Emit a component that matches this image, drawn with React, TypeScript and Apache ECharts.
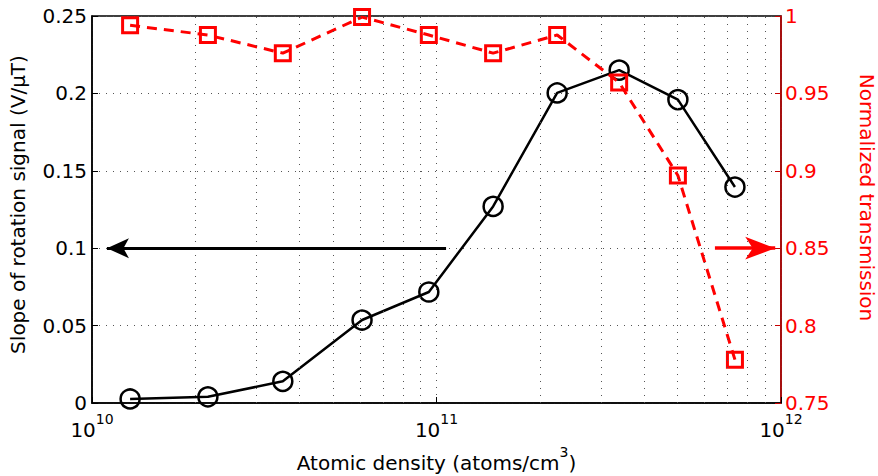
import React, { useEffect, useRef } from "react";
import * as echarts from "echarts";

// Atomic density (atoms/cm^3)
const density = [1.29e10, 2.17e10, 3.58e10, 6.08e10, 9.5e10, 1.46e11, 2.24e11, 3.39e11, 5.02e11, 7.35e11];
// Slope of rotation signal (V/uT) — left axis
const slope = [0.0026, 0.004, 0.014, 0.0536, 0.0717, 0.127, 0.2003, 0.215, 0.196, 0.1395];
// Normalized transmission — right axis
const transmission = [0.994, 0.9877, 0.976, 0.9993, 0.9877, 0.976, 0.9877, 0.957, 0.897, 0.778];

// Axis ranges
const xRange = [1e10, 1e12];
const leftRange = [0, 0.25];
const rightRange = [0.75, 1];
const yStep = 0.05;

// Arrow annotations [fromX, toX, y]
const blackArrow = [1.066e11, 1.105e10, 0.1];
const redArrow = [6.43e11, 9.62e11, 0.85];

// Minor log grid positions (2..9 per decade)
const minorMultipliers = [2, 3, 4, 5, 6, 7, 8, 9];
const decades = [1e10, 1e11];

const FONT = "DejaVu Sans";

export default function App() {
  const ref = useRef<HTMLDivElement>(null);

  useEffect(() => {
    if (!ref.current) return;
    const chart = echarts.init(ref.current, undefined, { renderer: "svg" });

    const minorGrid = decades.flatMap((d) => minorMultipliers.map((m) => m * d));
    const gridLine = { color: "#555", type: [1, 6] as any, width: 1 };

    chart.setOption({
      animation: false,
      backgroundColor: "#fff",
      grid: {
        left: 92,
        right: 97,
        top: 16,
        bottom: 73,
        outerBoundsMode: "none",
        containLabel: false,
        show: true,
        borderColor: "#000",
        borderWidth: 1.5,
        backgroundColor: "transparent",
      },
      xAxis: {
        type: "log",
        logBase: 10,
        min: xRange[0],
        max: xRange[1],
        name: "{n|Atomic density (atoms/cm}{s|3}{n|)}",
        nameLocation: "middle",
        nameGap: 40,
        nameTextStyle: {
          rich: {
            n: { fontSize: 20, fontFamily: FONT, color: "#000", verticalAlign: "bottom", lineHeight: 28 },
            s: { fontSize: 14, fontFamily: FONT, color: "#000", verticalAlign: "top", lineHeight: 28 },
          },
        },
        axisLine: { lineStyle: { color: "#000", width: 1.5 } },
        axisTick: { inside: true, length: 6, lineStyle: { color: "#000" } },
        axisLabel: {
          margin: 9,
          formatter: (v: number) => `{b|10}{s|${Math.round(Math.log10(v))}}`,
          rich: {
            b: { fontSize: 20, fontFamily: FONT, color: "#000", verticalAlign: "bottom", lineHeight: 28 },
            s: { fontSize: 14, fontFamily: FONT, color: "#000", verticalAlign: "top", lineHeight: 28 },
          },
        },
        splitLine: { show: true, lineStyle: gridLine },
      },
      yAxis: [
        {
          type: "value",
          min: leftRange[0],
          max: leftRange[1],
          interval: yStep,
          name: "Slope of rotation signal (V/\u03bcT)",
          nameLocation: "middle",
          nameGap: 64,
          nameTextStyle: { fontSize: 20, fontFamily: FONT, color: "#000", padding: [0, 0, 0, 10] },
          axisLine: { show: true, lineStyle: { color: "#000", width: 1.5 } },
          axisTick: { show: true, inside: true, length: 6, lineStyle: { color: "#000" } },
          axisLabel: { fontSize: 20, fontFamily: FONT, color: "#000", margin: 5 },
          splitLine: { show: true, lineStyle: gridLine },
        },
        {
          type: "value",
          position: "right",
          min: rightRange[0],
          max: rightRange[1],
          interval: yStep,
          name: "Normalized transmission",
          nameLocation: "middle",
          nameGap: 76,
          nameRotate: -90,
          nameTextStyle: { fontSize: 20, fontFamily: FONT, color: "#ff0000", padding: [0, 24, 0, 0] },
          axisLine: { show: true, lineStyle: { color: "#c80000", width: 1.5 } },
          axisTick: { show: true, inside: true, length: 6, lineStyle: { color: "#c80000" } },
          axisLabel: { fontSize: 20, fontFamily: FONT, color: "#ff0000", margin: 4 },
          splitLine: { show: false },
        },
      ],
      series: [
        {
          type: "line",
          name: "grid",
          data: [],
          silent: true,
          markLine: {
            silent: true,
            symbol: ["none", "none"],
            label: { show: false },
            lineStyle: gridLine,
            data: minorGrid.map((v) => ({ xAxis: v })),
          },
        },
        {
          type: "line",
          name: "transmission",
          yAxisIndex: 1,
          data: density.map((d, i) => [d, transmission[i]]),
          symbol: "rect",
          symbolSize: 15,
          lineStyle: { color: "#ff0000", width: 3, type: [10, 7] },
          itemStyle: { color: "rgba(0,0,0,0)", borderColor: "#ff0000", borderWidth: 3 },
          z: 3,
          markLine: {
            silent: true,
            symbol: ["none", "arrow"],
            symbolSize: [17, 30],
            label: { show: false },
            lineStyle: { color: "#ff0000", width: 3.5, type: "solid" },
            data: [[{ coord: [redArrow[0], redArrow[2]] }, { coord: [redArrow[1], redArrow[2]] }]],
          },
        },
        {
          type: "line",
          name: "slope",
          yAxisIndex: 0,
          data: density.map((d, i) => [d, slope[i]]),
          symbol: "circle",
          symbolSize: 19,
          lineStyle: { color: "#000", width: 2.5 },
          itemStyle: { color: "rgba(0,0,0,0)", borderColor: "#000", borderWidth: 2.5 },
          z: 2,
          markLine: {
            silent: true,
            symbol: ["none", "arrow"],
            symbolSize: [15, 22],
            label: { show: false },
            lineStyle: { color: "#000", width: 3, type: "solid" },
            data: [[{ coord: [blackArrow[0], blackArrow[2]] }, { coord: [blackArrow[1], blackArrow[2]] }]],
          },
        },
      ],
    });

    return () => chart.dispose();
  }, []);

  return (
    <div
      ref={ref}
      style={{ position: "fixed", left: 0, top: 0, width: 878, height: 476, background: "#fff" }}
    />
  );
}
